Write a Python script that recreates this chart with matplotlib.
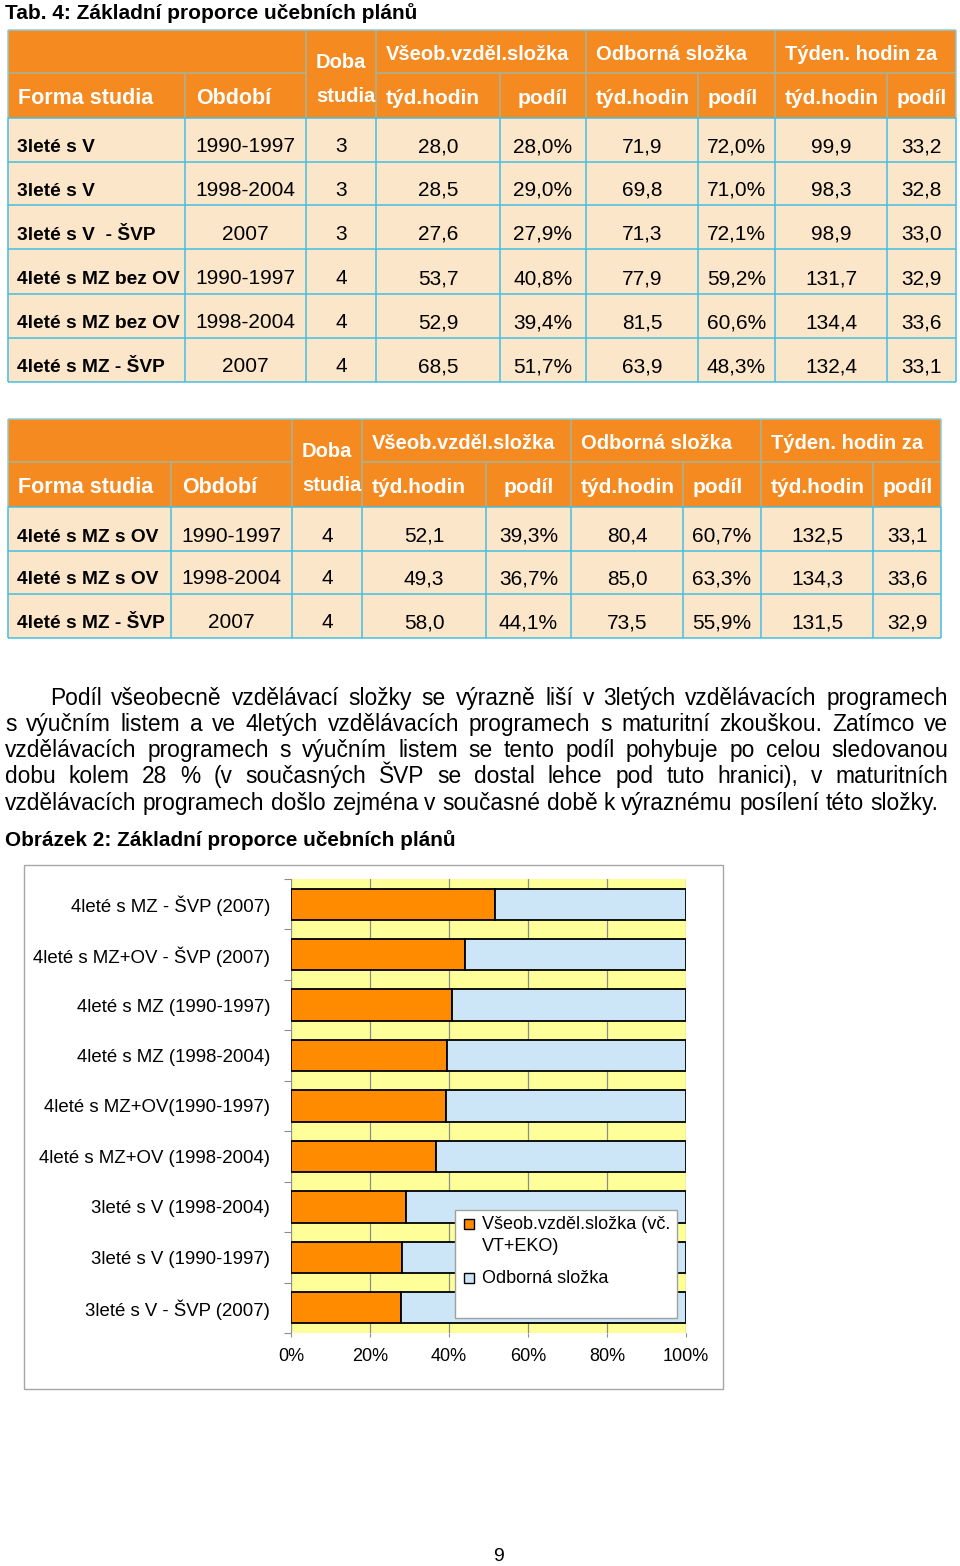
import numpy as np
import matplotlib
matplotlib.use('Agg')
import matplotlib.pyplot as plt
from matplotlib.patches import Rectangle
from matplotlib import font_manager

plt.rcParams['font.family'] = ['Liberation Sans', 'DejaVu Sans']

# ---------------- data ----------------
title_tab = "Tab. 4: Základní proporce učebních plánů"
hdr_row1 = ["Všeob.vzděl.složka", "Odborná složka", "Týden. hodin za"]
hdr_row2 = ["týd.hodin", "podíl", "týd.hodin", "podíl", "týd.hodin", "podíl"]

forma1 = ["3leté s V", "3leté s V", "3leté s V  - ŠVP", "4leté s MZ bez OV", "4leté s MZ bez OV", "4leté s MZ - ŠVP"]
obdobi1 = ["1990-1997", "1998-2004", "2007", "1990-1997", "1998-2004", "2007"]
doba1 = [3, 3, 3, 4, 4, 4]
vseob_hod1 = [28.0, 28.5, 27.6, 53.7, 52.9, 68.5]
vseob_podil1 = [28.0, 29.0, 27.9, 40.8, 39.4, 51.7]
odb_hod1 = [71.9, 69.8, 71.3, 77.9, 81.5, 63.9]
odb_podil1 = [72.0, 71.0, 72.1, 59.2, 60.6, 48.3]
tyden_hod1 = [99.9, 98.3, 98.9, 131.7, 134.4, 132.4]
tyden_podil1 = [33.2, 32.8, 33.0, 32.9, 33.6, 33.1]

forma2 = ["4leté s MZ s OV", "4leté s MZ s OV", "4leté s MZ - ŠVP"]
obdobi2 = ["1990-1997", "1998-2004", "2007"]
doba2 = [4, 4, 4]
vseob_hod2 = [52.1, 49.3, 58.0]
vseob_podil2 = [39.3, 36.7, 44.1]
odb_hod2 = [80.4, 85.0, 73.5]
odb_podil2 = [60.7, 63.3, 55.9]
tyden_hod2 = [132.5, 134.3, 131.5]
tyden_podil2 = [33.1, 33.6, 32.9]

paragraph = [
    "Podíl všeobecně vzdělávací složky se výrazně liší v 3letých vzdělávacích programech",
    "s výučním listem a ve 4letých vzdělávacích programech s maturitní zkouškou. Zatímco ve",
    "vzdělávacích programech s výučním listem se tento podíl pohybuje po celou sledovanou",
    "dobu kolem 28 % (v současných ŠVP se dostal lehce pod tuto hranici), v maturitních",
    "vzdělávacích programech došlo zejména v současné době k výraznému posílení této složky.",
]
title_fig = "Obrázek 2: Základní proporce učebních plánů"

chart_labels = ["4leté s MZ - ŠVP (2007)", "4leté s MZ+OV - ŠVP (2007)", "4leté s MZ (1990-1997)",
                "4leté s MZ (1998-2004)", "4leté s MZ+OV(1990-1997)", "4leté s MZ+OV (1998-2004)",
                "3leté s V (1998-2004)", "3leté s V (1990-1997)", "3leté s V - ŠVP (2007)"]
vseob_share = [51.7, 44.1, 40.8, 39.4, 39.3, 36.7, 29.0, 28.0, 27.9]
odb_share = [48.3, 55.9, 59.2, 60.6, 60.7, 63.3, 71.0, 72.0, 72.1]
series_names = ["Všeob.vzděl.složka (vč.\nVT+EKO)", "Odborná složka"]
x_ticks = [0, 20, 40, 60, 80, 100]
x_tick_labels = ["0%", "20%", "40%", "60%", "80%", "100%"]
page_number = "9"

# ---------------- style ----------------
HDR_FILL = '#F58A20'
ROW_FILL = '#FCE6C9'
HDR_LINE = '#A3B59C'
ROW_LINE = '#45BEE3'
ORANGE = '#FF8C00'
BLUE = '#CCE6F7'
PLOT_BG = '#FFFF99'
GRID = '#8C8C8C'

W, H = 960, 1566
fig = plt.figure(figsize=(W / 100, H / 100), dpi=100)
page = fig.add_axes([0, 0, 1, 1])
page.set_xlim(0, W)
page.set_ylim(H, 0)
page.axis('off')
renderer = fig.canvas.get_renderer()


def fmt(v):
    return f"{v:.1f}".replace('.', ',')


def pct(v):
    return fmt(v) + '%'


def width_of(s, size, **kw):
    t = page.text(0, 0, s, fontsize=size, **kw)
    w = t.get_window_extent(renderer).width
    t.remove()
    return w


def fit_size(s, target, base=14, **kw):
    return base * target / width_of(s, base, **kw)


names = {f.name for f in font_manager.fontManager.ttflist}
FIRST_FAMILY = ['Liberation Sans Narrow', 'Liberation Sans'] if 'Liberation Sans Narrow' in names else ['Liberation Sans']
first_size = fit_size("4leté s MZ bez OV", 163, family=FIRST_FAMILY, weight='bold')
first_size = min(first_size, 16)

# ---------------- titles ----------------
ts = fit_size(title_tab, 411, weight='bold')
page.text(5, 19, title_tab, fontsize=ts, weight='bold', va='baseline', ha='left')


# ---------------- tables ----------------
def draw_table(edges, top, h1, h2, row_bottoms, columns):
    left, right = edges[0], edges[-1]
    bottom = row_bottoms[-1]
    page.add_patch(Rectangle((left, top), right - left, h2 - top, facecolor=HDR_FILL, edgecolor='none', zorder=1))
    page.add_patch(Rectangle((left, h2), right - left, bottom - h2, facecolor=ROW_FILL, edgecolor='none', zorder=1))
    lw = 1.1
    page.hlines(h1, edges[0], edges[2], color=HDR_LINE, lw=lw, zorder=2)
    page.hlines(h1, edges[3], right, color=HDR_LINE, lw=lw, zorder=2)
    for i in (2, 3, 5, 7):
        page.vlines(edges[i], top, h2, color=HDR_LINE, lw=lw, zorder=2)
    for i in (1, 4, 6, 8):
        page.vlines(edges[i], h1, h2, color=HDR_LINE, lw=lw, zorder=2)
    page.hlines(top, left, right, color='#8FCBD6', lw=lw, zorder=2)
    page.vlines([left, right], top, h2, color='#8FCBD6', lw=lw, zorder=2)
    for e in edges:
        page.vlines(e, h2, bottom, color=ROW_LINE, lw=lw, zorder=2)
    for yv in [h2] + list(row_bottoms):
        page.hlines(yv, left, right, color=ROW_LINE, lw=lw, zorder=2)

    hk = dict(color='white', weight='bold', va='baseline', zorder=3)
    for k, lab in enumerate(hdr_row1):
        ci = 3 + 2 * k
        page.text(edges[ci] + 10, h1 - 13, lab, fontsize=14.5, ha='left', **hk)
    page.text(edges[2] + 10, h1 - 5, "Doba", fontsize=14.5, ha='left', **hk)
    page.text(edges[2] + 10, h2 - 16, "studia", fontsize=14.5, ha='left', **hk)
    page.text(edges[0] + 10, h2 - 14, "Forma studia", fontsize=15.5, ha='left', **hk)
    page.text(edges[1] + 11, h2 - 14, "Období", fontsize=15.5, ha='left', **hk)
    for k, lab in enumerate(hdr_row2):
        ci = 3 + k
        if ci == 4:
            page.text((edges[4] + edges[5]) / 2, h2 - 14, lab, fontsize=15, ha='center', **hk)
        else:
            page.text(edges[ci] + 10, h2 - 14, lab, fontsize=15, ha='left', **hk)

    for r, rb in enumerate(row_bottoms):
        yb = rb - 9.5
        page.text(edges[0] + 9, yb, columns[0][r], fontsize=first_size, family=FIRST_FAMILY,
                  weight='bold', ha='left', va='baseline', zorder=3)
        for c in range(1, len(columns)):
            page.text((edges[c] + edges[c + 1]) / 2, yb, columns[c][r], fontsize=15,
                      ha='center', va='baseline', zorder=3)


cols1 = [forma1, obdobi1, [str(v) for v in doba1], [fmt(v) for v in vseob_hod1], [pct(v) for v in vseob_podil1],
         [fmt(v) for v in odb_hod1], [pct(v) for v in odb_podil1], [fmt(v) for v in tyden_hod1],
         [fmt(v) for v in tyden_podil1]]
cols2 = [forma2, obdobi2, [str(v) for v in doba2], [fmt(v) for v in vseob_hod2], [pct(v) for v in vseob_podil2],
         [fmt(v) for v in odb_hod2], [pct(v) for v in odb_podil2], [fmt(v) for v in tyden_hod2],
         [fmt(v) for v in tyden_podil2]]

draw_table([8, 185, 306, 376, 500, 586, 698, 775, 887, 956], 30, 73, 118,
           [162, 205, 249, 294, 338, 382], cols1)
draw_table([8, 171, 292, 362, 486, 571, 683, 761, 873, 941], 419, 462, 507,
           [551, 594, 638], cols2)

# ---------------- paragraph ----------------
para_size = fit_size(paragraph[-1], 935)
space_w = width_of("a a", para_size) - width_of("aa", para_size)
line_x0 = [50, 5, 5, 5, 5]
line_base = [705, 731, 757, 783, 810]
for i, line in enumerate(paragraph):
    words = line.split(' ')
    txts = [page.text(0, line_base[i], w, fontsize=para_size, va='baseline', ha='left') for w in words]
    widths = [t.get_window_extent(renderer).width for t in txts]
    if i < len(paragraph) - 1:
        gap = (948 - line_x0[i] - sum(widths)) / (len(words) - 1)
    else:
        gap = space_w
    x = line_x0[i]
    for t, w in zip(txts, widths):
        t.set_x(x)
        x += w + gap

fs = fit_size(title_fig, 450, weight='bold')
page.text(5, 846, title_fig, fontsize=fs, weight='bold', va='baseline', ha='left')

# chart frame
page.add_patch(Rectangle((24, 865), 699, 524, facecolor='white', edgecolor='#A6A6A6', lw=1.0, zorder=1))

page.text(498, 1561, page_number, fontsize=14, ha='center', va='baseline')

# ---------------- chart ----------------
ax_l, ax_r, ax_t, ax_b = 291, 686, 879, 1333
ax = fig.add_axes([ax_l / W, 1 - ax_b / H, (ax_r - ax_l) / W, (ax_b - ax_t) / H])
n = len(chart_labels)
y = np.arange(n)
ax.barh(y, vseob_share, height=0.62, color=ORANGE, edgecolor='black', lw=1.3, zorder=3)
ax.barh(y, odb_share, left=vseob_share, height=0.62, color=BLUE, edgecolor='black', lw=1.3, zorder=3)
ax.set_xlim(0, 100)
ax.set_ylim(n - 0.5, -0.5)
ax.set_facecolor(PLOT_BG)
ax.set_xticks(x_ticks)
ax.set_xticklabels(x_tick_labels, fontsize=13)
ax.tick_params(axis='x', length=3, color=GRID, pad=8)
ax.xaxis.grid(True, color=GRID, lw=0.9, zorder=0)
ax.set_axisbelow(True)
ax.set_yticks(np.arange(n + 1) - 0.5)
ax.set_yticklabels([])
ax.tick_params(axis='y', which='major', length=5, color=GRID, width=0.8)
ax.set_yticks(y, minor=True)
ax.set_yticklabels(chart_labels, minor=True, fontsize=13.4)
ax.tick_params(axis='y', which='minor', length=0, pad=15)
for s in ax.spines.values():
    s.set_visible(False)

# ---------------- legend ----------------
over = fig.add_axes([0, 0, 1, 1])
over.set_xlim(0, W)
over.set_ylim(H, 0)
over.axis('off')
over.patch.set_visible(False)
over.add_patch(Rectangle((455, 1210), 222, 108, facecolor='white', edgecolor='#A0A0A0', lw=1.0))
over.add_patch(Rectangle((464, 1219), 10, 10, facecolor=ORANGE, edgecolor='black', lw=1.0))
over.add_patch(Rectangle((464, 1273), 10, 10, facecolor=BLUE, edgecolor='black', lw=1.0))
l1, l2 = series_names[0].split('\n')
over.text(482, 1229, l1, fontsize=13, va='baseline', ha='left')
over.text(482, 1251, l2, fontsize=13, va='baseline', ha='left')
over.text(482, 1283, series_names[1], fontsize=13, va='baseline', ha='left')

fig.savefig('out.png', dpi=100)
